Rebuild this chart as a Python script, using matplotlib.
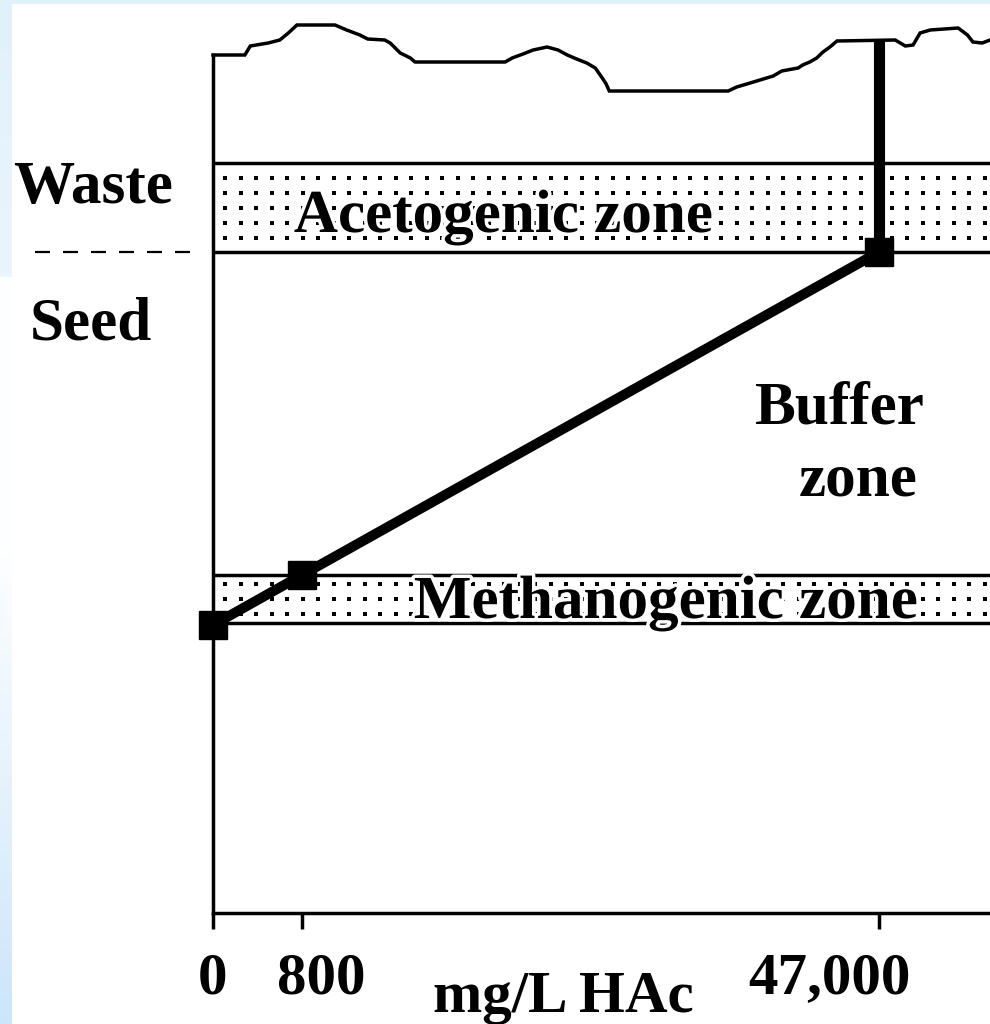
import numpy as np
import matplotlib
matplotlib.use("Agg")
import matplotlib.pyplot as plt
import matplotlib.transforms as mtransforms
import matplotlib.patheffects as pe

# ---------------- data ----------------
tick_values = [0, 800, 47000]
tick_labels = ["0", "800", "47,000"]
x_label = "mg/L HAc"

# concentration path (schematic levels, arbitrary height units)
path_conc = [0, 800, 47000]
path_level = [288, 338, 661]
surface_level_at_end = 873

# zone bands (height units)
methanogenic_band = (290, 338)
acetogenic_band = (661, 750)
waste_seed_divider = 661

# waste surface outline: fraction of plot width, height units
surface_frac = [0.000, 0.041, 0.048, 0.071, 0.086, 0.097, 0.108, 0.157, 0.172, 0.189,
                0.199, 0.221, 0.228, 0.241, 0.254, 0.260, 0.376, 0.385, 0.399, 0.412,
                0.430, 0.444, 0.456, 0.468, 0.481, 0.492, 0.501, 0.506, 0.510, 0.663,
                0.674, 0.687, 0.704, 0.721, 0.732, 0.753, 0.759, 0.768, 0.777, 0.785,
                0.794, 0.803, 0.878, 0.891, 0.901, 0.910, 0.923, 0.959, 0.971, 0.978,
                0.990, 1.000]
surface_level = [858, 858, 867, 870, 873, 880, 888, 888, 883, 878,
                 874, 873, 870, 860, 855, 851, 851, 855, 859, 863,
                 866, 863, 858, 854, 850, 845, 835, 829, 822, 822,
                 826, 829, 833, 837, 842, 845, 848, 851, 855, 861,
                 866, 872, 873, 867, 868, 880, 883, 885, 878, 871,
                 870, 873]

# ---------------- figure ----------------
W, H = 990, 1024
fig = plt.figure(figsize=(W / 100, H / 100), dpi=100)
fig.patch.set_facecolor("white")

# slide background strips (light blue)
bg_left = fig.add_axes([0, 0, 12 / W, 1], zorder=-5)
grad = np.ones((H, 1, 3))
top_c = np.array([0.88, 0.945, 0.99])
bot_c = np.array([0.80, 0.90, 0.98])
white = np.array([0.995, 0.998, 1.0])
for i in range(H):
    if i < 277:
        t = i / 277
        c = top_c * (1 - 0.3 * t) + white * 0.3 * t
    elif i < 550:
        c = white
    else:
        t = (i - 550) / (H - 550)
        c = white * (1 - t) + bot_c * t
    grad[i, 0, :] = c
bg_left.imshow(grad, aspect="auto", extent=[0, 1, 0, 1], origin="upper")
bg_left.axis("off")
bg_top = fig.add_axes([0, 1 - 4 / H, 1, 4 / H], zorder=-5)
bg_top.set_facecolor(top_c)
bg_top.set_xticks([]); bg_top.set_yticks([])
for s in bg_top.spines.values():
    s.set_visible(False)

x0_px, y0_px = 213, 913
ax = fig.add_axes([x0_px / W, (H - y0_px) / H, (W - x0_px) / W, y0_px / H])
ax.set_facecolor("none")

# piecewise-linear (schematic) concentration axis
anchor_vals = [0, 800, 47000, 60000]
anchor_pos = [0, 89, 666, 828]


def fwd(v):
    return np.interp(v, anchor_vals, anchor_pos)


def inv(p):
    return np.interp(p, anchor_pos, anchor_vals)


ax.set_xscale("function", functions=(fwd, inv))
ax.set_xlim(0, inv(W - x0_px))
ax.set_ylim(0, y0_px)

LW = 2.5
for s in ["top", "right"]:
    ax.spines[s].set_visible(False)
ax.spines["left"].set_linewidth(LW)
ax.spines["bottom"].set_linewidth(LW)
ax.spines["left"].set_bounds(0, surface_level[0])
ax.set_yticks([])
ax.set_xticks(tick_values)
ax.set_xticklabels([])
ax.tick_params(axis="x", direction="out", length=11.5, width=LW, color="black")
ax.xaxis.set_minor_locator(matplotlib.ticker.NullLocator())

xfrac_ydata = mtransforms.blended_transform_factory(ax.transAxes, ax.transData)
fig_ydata = mtransforms.blended_transform_factory(fig.transFigure, ax.transData)

# zone bands: border lines + dotted fill
dot_px = 15.5
for lo, hi in [methanogenic_band, acetogenic_band]:
    for yv in (lo, hi):
        ax.plot([0, 1], [yv, yv], color="black", lw=LW, transform=xfrac_ydata,
                solid_capstyle="butt", zorder=2)
    n_rows = int((hi - lo) // 15)
    mid = (lo + hi) / 2
    rows = mid + (np.arange(n_rows) - (n_rows - 1) / 2) * 15
    cols = (np.arange(12, W - x0_px, dot_px)) / (W - x0_px)
    gx, gy = np.meshgrid(cols, rows)
    ax.plot(gx.ravel(), gy.ravel(), ls="none", marker="s", ms=2.6, mew=0,
            color="black", transform=xfrac_ydata, zorder=1)

# waste surface outline
ax.plot(surface_frac, surface_level, color="black", lw=LW, transform=xfrac_ydata,
        clip_on=False, zorder=3, solid_joinstyle="miter")

# concentration path
ax.plot(path_conc, path_level, color="black", lw=7.2, clip_on=False, zorder=5,
        solid_capstyle="butt")
ax.plot([path_conc[-1], path_conc[-1]], [path_level[-1], surface_level_at_end],
        color="black", lw=8, clip_on=False, zorder=5, solid_capstyle="butt")
ax.plot(path_conc, path_level, ls="none", marker="s", ms=19.5, color="black",
        clip_on=False, zorder=6)

# labels
bold = dict(family="Liberation Serif", fontweight="bold", fontsize=44, color="black")
halo = [pe.withStroke(linewidth=5, foreground="white")]

ax.text(0.374, 681, "Acetogenic zone", ha="center", va="baseline",
        transform=xfrac_ydata, path_effects=halo, zorder=4, **bold)
ax.text(0.583, 295, "Methanogenic zone", ha="center", va="baseline",
        transform=xfrac_ydata, path_effects=halo, zorder=4, **bold)
ax.text(0.807, 490, "Buffer", ha="center", va="baseline",
        transform=xfrac_ydata, zorder=4, **bold)
ax.text(0.831, 418, "zone", ha="center", va="baseline",
        transform=xfrac_ydata, zorder=4, **bold)

# waste / seed divider and labels (left margin)
ax.plot([35 / W, 192 / W], [waste_seed_divider, waste_seed_divider], color="black",
        lw=1.6, dashes=(6.75, 5.85), transform=fig_ydata, clip_on=False)
ax.text(13 / W, 710, "Waste", ha="left", va="baseline", transform=fig_ydata,
        clip_on=False, **bold)
ax.text(30 / W, 574, "Seed", ha="left", va="baseline", transform=fig_ydata,
        clip_on=False, **bold)

# tick labels and axis label
tick_font = dict(family="Liberation Serif", fontweight="bold", fontsize=42.5, color="black")
label_dx = [0, 19, -50]
for v, lab, dx in zip(tick_values, tick_labels, label_dx):
    ax.annotate(lab, xy=(v, 0), xycoords=("data", "data"), xytext=(dx, -80),
                textcoords="offset pixels", ha="center", va="baseline",
                annotation_clip=False, **tick_font)
ax.annotate(x_label, xy=(0, 0), xycoords="axes fraction", xytext=(563 - x0_px, -99),
            textcoords="offset pixels", ha="center", va="baseline",
            annotation_clip=False, **tick_font)

fig.savefig("out.png", dpi=100)
